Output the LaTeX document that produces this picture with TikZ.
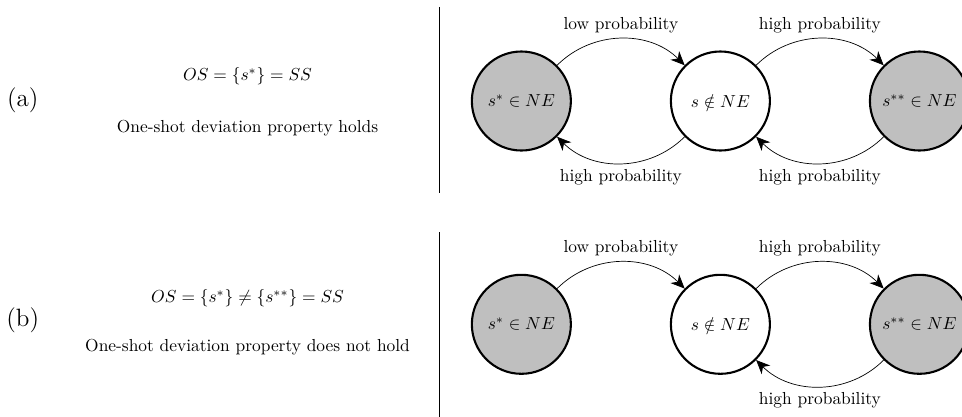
\documentclass[tikz,border=0pt]{standalone}
\usepackage{amsmath}
\usepackage{amssymb}
\usetikzlibrary{arrows.meta}

\begin{document}
\begin{tikzpicture}[
  profile/.style={circle,draw,very thick,minimum size=2cm,inner sep=0pt},
  nash/.style={profile,fill=gray!50},
  move/.style={-{Stealth[length=8pt,width=7pt,inset=2.5pt]}}
]
\useasboundingbox (0,0) rectangle (19.43,-8.42);

\draw (8.87,-0.14) -- (8.87,-3.9);
\draw (8.87,-4.69) -- (8.87,-8.42);

\node (labela) at (0.46,-2.02) {\Large (a)};
\node (osa) at (5,-1.54) {$OS=\{s^*\}=SS$};
\node (propa) at (5,-2.59) {One-shot deviation property holds};

\node[nash] (sa1) at (10.53,-2.04) {$s^*\in NE$};
\node[profile] (sa2) at (14.55,-2.04) {$s\notin NE$};
\node[nash] (sa3) at (18.57,-2.04) {$s^{**}\in NE$};

\draw[move] (sa1) to[bend left=45] node[above] {low probability} (sa2);
\draw[move] (sa2) to[bend left=45] node[above] {high probability} (sa3);
\draw[move] (sa2) to[bend left=45] node[below] {high probability} (sa1);
\draw[move] (sa3) to[bend left=45] node[below] {high probability} (sa2);

\node (labelb) at (0.46,-6.46) {\Large (b)};
\node (osb) at (5,-6.02) {$OS=\{s^*\}\neq\{s^{**}\}=SS$};
\node (propb) at (5,-7.01) {One-shot deviation property does not hold};

\node[nash] (sb1) at (10.53,-6.55) {$s^*\in NE$};
\node[profile] (sb2) at (14.55,-6.55) {$s\notin NE$};
\node[nash] (sb3) at (18.57,-6.55) {$s^{**}\in NE$};

\draw[move] (sb1) to[bend left=45] node[above] {low probability} (sb2);
\draw[move] (sb2) to[bend left=45] node[above] {high probability} (sb3);
\draw[move] (sb3) to[bend left=45] node[below] {high probability} (sb2);
\end{tikzpicture}
\end{document}
